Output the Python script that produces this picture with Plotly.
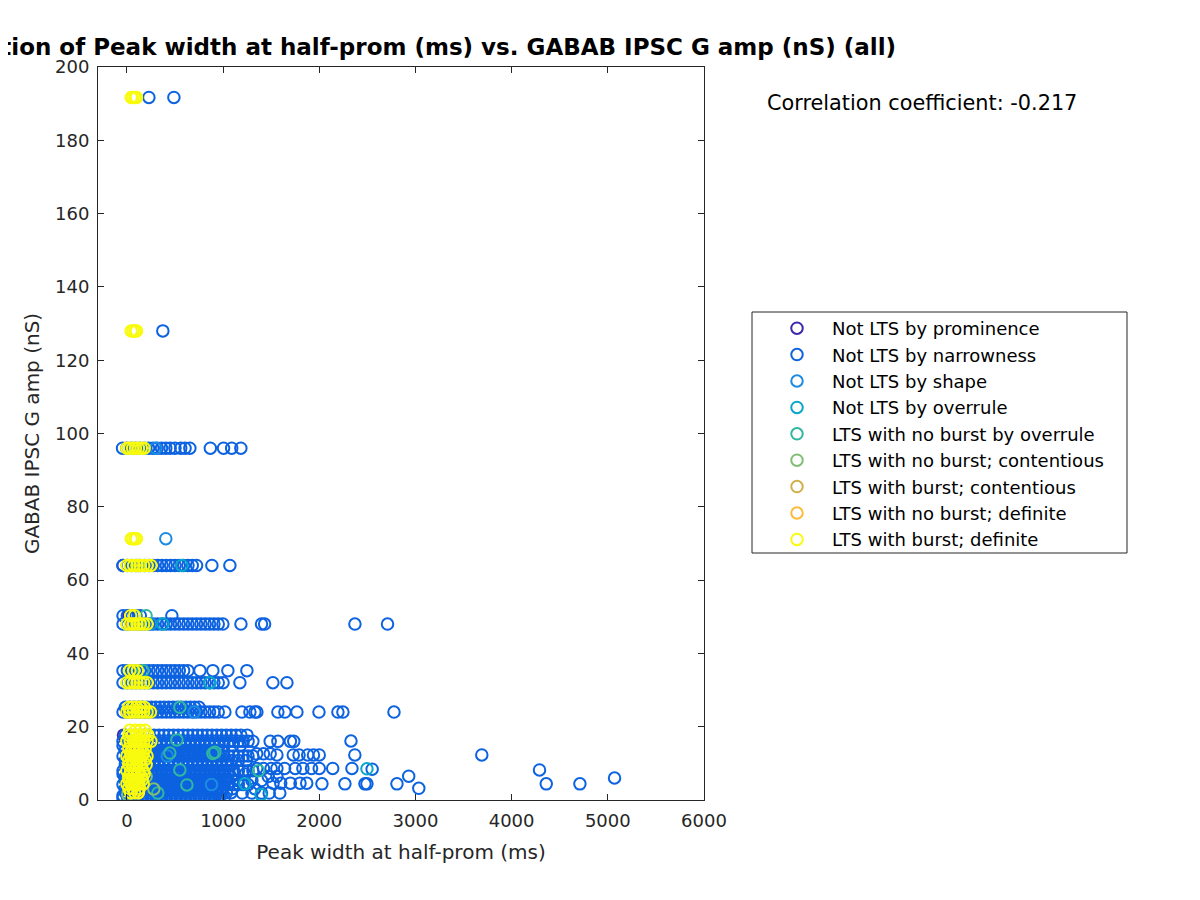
import plotly.graph_objects as go

# series values, as (peak width ms, GABAB amp nS) pairs
prominence_pts = [
    [-40, 64], [-35, 17.7], [870, 0.3], [20, 50.3],
]

narrowness_pts = [
    [229, 191.7], [489, 191.7],
    [374, 128],
    [-45, 96], [0, 96], [45, 96], [90, 96], [135, 96], [180, 96], [225, 96], [270, 96],
    [315, 96], [360, 96], [405, 96], [450, 96], [500, 96], [560, 96], [605, 96], [655, 96],
    [868, 96], [1005, 96], [1090, 96], [1185, 96],
    [-40, 64], [5, 64], [50, 64], [95, 64], [140, 64], [185, 64], [230, 64], [275, 64],
    [320, 64], [365, 64], [410, 64], [455, 64], [500, 64], [545, 64], [590, 64], [635, 64],
    [680, 64], [725, 64], [884, 64], [1071, 64],
    [-40, 50.3], [5, 50.3], [50, 50.3], [95, 50.3], [140, 50.3], [468, 50.3],
    [-40, 48], [5, 48], [50, 48], [95, 48], [140, 48], [185, 48], [230, 48], [275, 48],
    [320, 48], [365, 48], [410, 48], [455, 48], [500, 48], [545, 48], [590, 48], [635, 48],
    [680, 48], [725, 48], [770, 48], [815, 48], [860, 48], [905, 48], [950, 48], [998, 48],
    [1186, 48], [1400, 48], [1432, 48], [2371, 48], [2710, 48],
    [-40, 35.3], [5, 35.3], [50, 35.3], [95, 35.3], [140, 35.3], [185, 35.3], [230, 35.3],
    [275, 35.3], [320, 35.3], [365, 35.3], [410, 35.3], [455, 35.3], [500, 35.3], [545, 35.3],
    [590, 35.3], [635, 35.3], [760, 35.3], [894, 35.3], [1050, 35.3], [1248, 35.3],
    [-40, 32], [5, 32], [50, 32], [95, 32], [140, 32], [185, 32], [230, 32], [275, 32],
    [320, 32], [365, 32], [410, 32], [455, 32], [500, 32], [545, 32], [590, 32], [635, 32],
    [680, 32], [725, 32], [770, 32], [815, 32], [860, 32], [905, 32], [950, 32], [1000, 32],
    [1175, 32], [1518, 32], [1664, 32],
    [-15, 25.3], [30, 25.3], [75, 25.3], [120, 25.3], [165, 25.3], [210, 25.3], [255, 25.3],
    [300, 25.3], [345, 25.3], [390, 25.3], [435, 25.3], [480, 25.3], [525, 25.3], [570, 25.3],
    [615, 25.3], [660, 25.3], [705, 25.3], [750, 25.3],
    [-40, 24], [5, 24], [50, 24], [95, 24], [140, 24], [185, 24], [230, 24], [275, 24],
    [320, 24], [365, 24], [410, 24], [455, 24], [500, 24], [545, 24], [590, 24], [635, 24],
    [680, 24], [725, 24], [770, 24], [815, 24], [860, 24], [905, 24], [950, 24], [1019, 24],
    [1196, 24], [1279, 24], [1331, 24], [1352, 24], [1570, 24], [1643, 24], [1768, 24],
    [1997, 24], [2194, 24], [2246, 24], [2777, 24],
    [-15, 17.7], [35, 17.7], [85, 17.7], [135, 17.7], [185, 17.7], [235, 17.7], [285, 17.7],
    [335, 17.7], [385, 17.7], [435, 17.7], [485, 17.7], [535, 17.7], [585, 17.7], [635, 17.7],
    [685, 17.7], [735, 17.7], [785, 17.7], [835, 17.7], [885, 17.7], [935, 17.7], [985, 17.7],
    [1035, 17.7], [1085, 17.7], [1135, 17.7], [1185, 17.7], [1250, 17.7],
    [-40, 16], [10, 16], [60, 16], [110, 16], [160, 16], [210, 16], [260, 16], [310, 16],
    [360, 16], [410, 16], [460, 16], [510, 16], [560, 16], [610, 16], [660, 16], [710, 16],
    [760, 16], [810, 16], [860, 16], [910, 16], [960, 16], [1010, 16], [1060, 16], [1110, 16],
    [1160, 16], [1210, 16], [1260, 16], [1310, 16], [1490, 16], [1570, 16], [1700, 16],
    [1735, 16], [2330, 16.1],
    [-40, 14.8], [10, 14.8], [60, 14.8], [110, 14.8], [160, 14.8], [210, 14.8], [260, 14.8],
    [310, 14.8], [360, 14.8], [410, 14.8], [460, 14.8], [510, 14.8], [560, 14.8], [610, 14.8],
    [660, 14.8], [710, 14.8], [760, 14.8], [810, 14.8], [860, 14.8], [910, 14.8], [960, 14.8],
    [1010, 14.8], [1100, 14.8], [1180, 14.8],
    [-15, 13.6], [35, 13.6], [85, 13.6], [135, 13.6], [185, 13.6], [235, 13.6], [285, 13.6],
    [335, 13.6], [385, 13.6], [435, 13.6], [485, 13.6], [535, 13.6], [585, 13.6], [635, 13.6],
    [685, 13.6], [735, 13.6], [785, 13.6], [835, 13.6], [885, 13.6], [935, 13.6], [985, 13.6],
    [-40, 12], [10, 12], [60, 12], [110, 12], [160, 12], [210, 12], [260, 12], [310, 12],
    [360, 12], [410, 12], [460, 12], [510, 12], [560, 12], [610, 12], [660, 12], [710, 12],
    [760, 12], [810, 12], [860, 12], [910, 12], [960, 12], [1010, 12], [1060, 12], [1110, 12],
    [1160, 12], [1210, 12], [1260, 12], [1310, 12], [1350, 12.6], [1420, 12.6], [1490, 12.6],
    [1560, 12.3], [1730, 12.3], [1790, 12.3], [1880, 12.3], [1940, 12.3], [2000, 12.3],
    [2370, 12.3], [3690, 12.3],
    [-15, 10.8], [35, 10.8], [85, 10.8], [135, 10.8], [185, 10.8], [235, 10.8], [285, 10.8],
    [335, 10.8], [385, 10.8], [435, 10.8], [485, 10.8], [535, 10.8], [585, 10.8], [635, 10.8],
    [685, 10.8], [735, 10.8], [785, 10.8], [835, 10.8], [885, 10.8], [935, 10.8], [985, 10.8],
    [1035, 10.8], [1085, 10.8], [1160, 10.8], [1240, 10.8],
    [-15, 9.6], [35, 9.6], [85, 9.6], [135, 9.6], [185, 9.6], [235, 9.6], [285, 9.6],
    [335, 9.6], [385, 9.6], [435, 9.6], [485, 9.6], [535, 9.6], [585, 9.6], [635, 9.6],
    [685, 9.6], [735, 9.6], [785, 9.6], [835, 9.6], [885, 9.6], [935, 9.6], [985, 9.6],
    [1035, 9.6], [1085, 9.6],
    [-40, 8], [10, 8], [60, 8], [110, 8], [160, 8], [210, 8], [260, 8], [310, 8],
    [360, 8], [410, 8], [460, 8], [510, 8], [560, 8], [610, 8], [660, 8], [710, 8],
    [760, 8], [810, 8], [860, 8], [910, 8], [960, 8], [1010, 8], [1060, 8], [1110, 8],
    [1160, 8], [1210, 8], [1260, 8], [1310, 8], [1350, 8.6], [1420, 8.6], [1500, 8.6],
    [1560, 8.6], [1640, 8.6], [1750, 8.6], [1830, 8.6], [1920, 8.6], [2000, 8.6],
    [2140, 8.6], [2340, 8.6], [2550, 8.4], [4290, 8.2],
    [-40, 7.1], [10, 7.1], [60, 7.1], [110, 7.1], [160, 7.1], [210, 7.1], [260, 7.1],
    [310, 7.1], [360, 7.1], [410, 7.1], [460, 7.1], [510, 7.1], [560, 7.1], [610, 7.1],
    [660, 7.1], [710, 7.1], [760, 7.1], [810, 7.1], [860, 7.1], [910, 7.1], [960, 7.1],
    [1010, 7.1], [1120, 7.1], [1230, 7.1],
    [-15, 6.2], [35, 6.2], [85, 6.2], [135, 6.2], [185, 6.2], [235, 6.2], [285, 6.2],
    [335, 6.2], [385, 6.2], [435, 6.2], [485, 6.2], [535, 6.2], [585, 6.2], [635, 6.2],
    [685, 6.2], [735, 6.2], [785, 6.2], [835, 6.2], [885, 6.2], [935, 6.2], [985, 6.2],
    [1035, 6.2], [1085, 6.2], [1470, 6.4], [1560, 6.4], [2930, 6.5], [5070, 6.0],
    [-15, 5.3], [35, 5.3], [85, 5.3], [135, 5.3], [185, 5.3], [235, 5.3], [285, 5.3],
    [335, 5.3], [385, 5.3], [435, 5.3], [485, 5.3], [535, 5.3], [585, 5.3], [635, 5.3],
    [685, 5.3], [735, 5.3], [785, 5.3], [835, 5.3], [885, 5.3], [935, 5.3], [985, 5.3],
    [1035, 5.3], [1150, 5.3], [1300, 5.3], [1400, 5.3],
    [-40, 4.2], [10, 4.2], [60, 4.2], [110, 4.2], [160, 4.2], [210, 4.2], [260, 4.2],
    [310, 4.2], [360, 4.2], [410, 4.2], [460, 4.2], [510, 4.2], [560, 4.2], [610, 4.2],
    [660, 4.2], [710, 4.2], [760, 4.2], [810, 4.2], [860, 4.2], [910, 4.2], [960, 4.2],
    [1010, 4.2], [1060, 4.2], [1110, 4.2], [1160, 4.2], [1210, 4.2], [1260, 4.2],
    [1520, 4.6], [1600, 4.6], [1700, 4.6], [1800, 4.6], [1870, 4.6], [2028, 4.4],
    [2267, 4.4], [2475, 4.4], [2496, 4.4], [2808, 4.4], [4360, 4.4], [4710, 4.4],
    [-15, 3.1], [35, 3.1], [85, 3.1], [135, 3.1], [185, 3.1], [235, 3.1], [285, 3.1],
    [335, 3.1], [385, 3.1], [435, 3.1], [485, 3.1], [535, 3.1], [585, 3.1], [635, 3.1],
    [685, 3.1], [735, 3.1], [785, 3.1], [835, 3.1], [885, 3.1], [935, 3.1], [985, 3.1],
    [1100, 3.1], [1330, 3.1], [3035, 3.2],
    [-15, 2], [35, 2], [85, 2], [135, 2], [185, 2], [235, 2], [285, 2], [335, 2],
    [385, 2], [435, 2], [485, 2], [535, 2], [585, 2], [635, 2], [685, 2], [735, 2],
    [785, 2], [835, 2], [885, 2], [935, 2], [985, 2], [1035, 2], [1085, 2], [1200, 1.9],
    [1300, 1.9], [1400, 1.9], [1480, 1.9], [1590, 1.9],
    [-40, 1.2], [10, 1.2], [60, 1.2], [110, 1.2], [160, 1.2], [210, 1.2], [260, 1.2],
    [310, 1.2], [360, 1.2], [410, 1.2], [460, 1.2], [510, 1.2], [560, 1.2], [610, 1.2],
    [660, 1.2], [710, 1.2], [760, 1.2], [810, 1.2], [860, 1.2], [910, 1.2], [960, 1.2],
    [-40, 0.5], [10, 0.5], [60, 0.5], [110, 0.5], [160, 0.5], [210, 0.5], [260, 0.5],
    [310, 0.5], [360, 0.5], [410, 0.5], [460, 0.5], [510, 0.5], [560, 0.5], [610, 0.5],
    [660, 0.5], [710, 0.5], [760, 0.5], [810, 0.5], [860, 0.5], [910, 0.5], [960, 0.5],
    [1010, 0.5],
]

shape_pts = [
    [405, 71.3], [300, 96], [250, 48], [700, 24], [420, 12], [880, 4.2],
]

overrule_pts = [
    [572, 64], [374, 48], [863, 32], [1227, 4.4], [1394, 1.4], [2496, 8.5],
]

nb_overrule_pts = [
    [166, 35.3], [551, 25.3], [894, 12.7], [520, 16.4], [447, 12.8], [551, 8.2],
    [624, 4.1], [322, 1.9], [915, 13.0], [200, 50.3], [120, 64], [1370, 8.0],
]

nb_contentious_pts = [
    [10, 1.4], [170, 12.5], [160, 24], [280, 3.0], [130, 48], [200, 6.4],
]

b_contentious_pts = [
    [115, 2.0], [140, 12], [150, 25.3],
]

nb_definite_pts = [
    [50, 12.8], [115, 2.7], [30, 24], [90, 16], [60, 48], [110, 4.4],
]

b_definite_pts = [
    [45, 191.7], [65, 191.7], [85, 191.7], [100, 191.7],
    [45, 128], [65, 128], [85, 128], [100, 128],
    [0, 96], [30, 96], [60, 96], [90, 96], [120, 96], [150, 96], [180, 96],
    [45, 71.3], [65, 71.3], [85, 71.3], [100, 71.3],
    [0, 64], [35, 64], [70, 64], [105, 64], [140, 64], [175, 64], [210, 64], [250, 64],
    [40, 50.3], [80, 50.3],
    [0, 48], [35, 48], [70, 48], [105, 48], [140, 48], [175, 48], [210, 48],
    [30, 35.3], [70, 35.3], [110, 35.3],
    [0, 32], [35, 32], [70, 32], [105, 32], [140, 32], [175, 32], [210, 32],
    [20, 25.3], [60, 25.3], [100, 25.3], [140, 25.3], [180, 25.3],
    [0, 24], [35, 24], [70, 24], [105, 24], [140, 24], [175, 24], [210, 24], [245, 24],
    [30, 19], [90, 19], [140, 19], [190, 19],
    [20, 17.7], [60, 17.7], [100, 17.7], [140, 17.7], [180, 17.7], [220, 17.7],
    [0, 16], [35, 16], [70, 16], [105, 16], [140, 16], [175, 16], [210, 16], [250, 16],
    [20, 14], [60, 14], [100, 14], [140, 14], [190, 14],
    [40, 13], [80, 13], [120, 13], [170, 13],
    [0, 12], [40, 12], [80, 12], [120, 12], [160, 12], [210, 12],
    [20, 11], [60, 11], [100, 11], [140, 11], [190, 11],
    [20, 9.6], [60, 9.6], [100, 9.6], [140, 9.6], [200, 9.6],
    [0, 8], [40, 8], [80, 8], [120, 8], [170, 8],
    [40, 7.2], [80, 7.2], [120, 7.2], [180, 7.2],
    [20, 6.4], [60, 6.4], [100, 6.4], [150, 6.4],
    [20, 5.5], [60, 5.5], [100, 5.5], [160, 5.5],
    [0, 4.4], [40, 4.4], [80, 4.4], [120, 4.4], [170, 4.4],
    [20, 3.2], [60, 3.2], [130, 3.2],
    [40, 2], [80, 2], [120, 2],
]

labels = [
    "Not LTS by prominence",
    "Not LTS by narrowness",
    "Not LTS by shape",
    "Not LTS by overrule",
    "LTS with no burst by overrule",
    "LTS with no burst; contentious",
    "LTS with burst; contentious",
    "LTS with no burst; definite",
    "LTS with burst; definite",
]
colors = [
    "#3e26a8", "#0c62e0", "#1c8be2", "#08a6c8", "#2fb7a0",
    "#80bf72", "#d1b04c", "#fcbb3a", "#f9fb0e",
]
groups = [
    prominence_pts, narrowness_pts, shape_pts, overrule_pts, nb_overrule_pts,
    nb_contentious_pts, b_contentious_pts, nb_definite_pts, b_definite_pts,
]

corr_text = "Correlation coefficient: -0.217"

# the page puts the figure 8px in from the corner, so convert target pixels with that in mind
OFF = 8


def px(x):
    return (x - OFF) / 1200


def py(y):
    return 1 - (y - OFF) / 900


fig = go.Figure()
for name, color, pts in zip(labels, colors, groups):
    xs = [p[0] for p in pts]
    ys = [p[1] for p in pts]
    fig.add_trace(
        go.Scatter(
            x=xs,
            y=ys,
            mode="markers",
            name=name,
            legendgroup=name,
            marker=dict(
                symbol="circle-open", size=11.5, color=color, line=dict(width=2, color=color)
            ),
        )
    )

axis_style = dict(
    showline=True,
    linecolor="#262626",
    linewidth=1,
    mirror="ticks",
    ticks="inside",
    ticklen=6,
    tickcolor="#262626",
    showgrid=False,
    zeroline=False,
    automargin=False,
    ticklabelstandoff=4,
    tickfont=dict(size=18, color="#262626"),
)

fig.update_layout(
    width=1200,
    height=900,
    paper_bgcolor="white",
    plot_bgcolor="white",
    font=dict(family="DejaVu Sans", color="#262626"),
    margin=dict(l=0, r=0, t=0, b=0),
    title=dict(
        text="<b>Correlation of Peak width at half-prom (ms) vs. GABAB IPSC G amp (nS) (all)</b>",
        x=px(401),
        xanchor="center",
        y=py(47),
        yanchor="middle",
        font=dict(size=23, color="black"),
    ),
    xaxis=dict(
        domain=[px(98), px(704)],
        range=[-300, 6000],
        tickvals=[0, 1000, 2000, 3000, 4000, 5000, 6000],
        title=dict(text="Peak width at half-prom (ms)", font=dict(size=20), standoff=15),
        **axis_style,
    ),
    yaxis=dict(
        domain=[py(800), py(67)],
        range=[0, 200],
        dtick=20,
        title=dict(text="GABAB IPSC G amp (nS)", font=dict(size=20), standoff=10),
        **axis_style,
    ),
    legend=dict(
        x=px(762),
        y=py(310),
        xanchor="left",
        yanchor="top",
        borderwidth=0,
        bgcolor="rgba(0,0,0,0)",
        font=dict(size=18, color="black"),
        tracegroupgap=0,
        itemwidth=60,
    ),
    shapes=[
        dict(
            type="rect",
            xref="paper",
            yref="paper",
            x0=px(752),
            x1=px(1127),
            y0=py(553),
            y1=py(312),
            line=dict(color="#262626", width=1),
            fillcolor="white",
            layer="below",
        )
    ],
    annotations=[
        dict(
            text=corr_text,
            x=px(765),
            y=py(103),
            xref="paper",
            yref="paper",
            xanchor="left",
            yanchor="middle",
            showarrow=False,
            font=dict(size=20.8, color="black"),
        )
    ],
)

fig.write_html("out.html")
